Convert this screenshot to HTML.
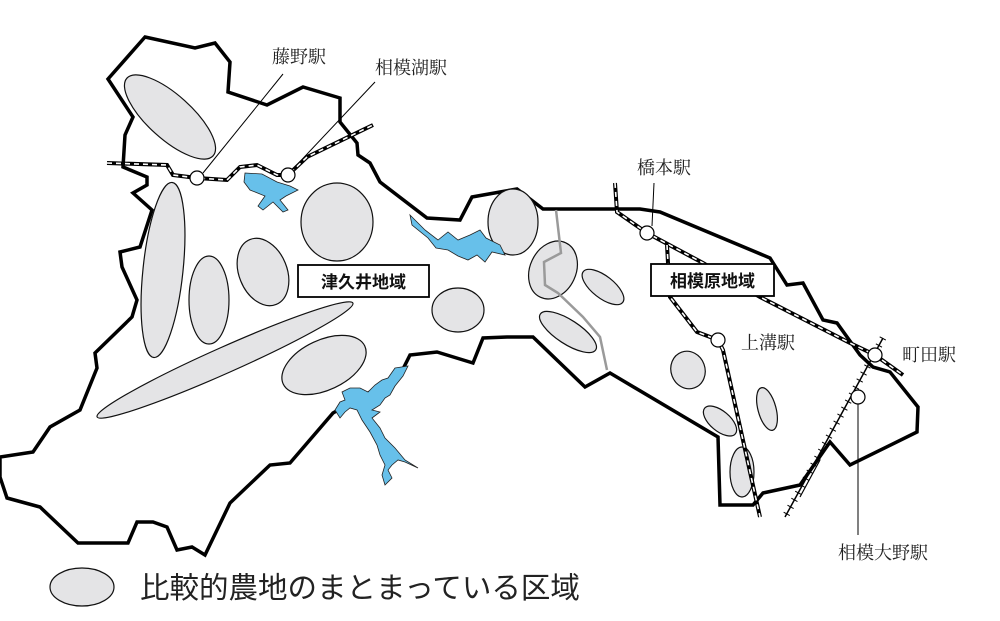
<!DOCTYPE html>
<html><head><meta charset="utf-8"><style>
html,body{margin:0;padding:0;background:#fff;}
svg{display:block;}
.st{font-family:"Liberation Serif","Noto Serif CJK SC",serif;font-size:18px;fill:#222;}
.bx{font-family:"Liberation Sans","Noto Sans CJK JP",sans-serif;font-size:17px;font-weight:bold;fill:#111;}
</style></head><body>
<svg width="1000" height="621" viewBox="0 0 1000 621" xmlns="http://www.w3.org/2000/svg">
<path d="M145,37 L195,48 L215,43 L230,62 L228,92 L267,105 L303,87 L340,98 L340,122 L357,143 L358,155 L370,163 L380,182 L427,218 L460,220 L472,197 L500,192 L517,189 L543,209 L640,209 L660,212 L770,258 L787,285 L803,283 L823,320 L837,323 L860,355 L873,367 L890,372 L918,407 L917,432 L850,465 L830,442 L800,485 L763,493 L753,505 L720,505 L718,437 L610,373 L585,387 L533,337 L507,337 L483,338 L473,363 L437,352 L410,355 L400,375 L333,413 L290,463 L270,465 L230,503 L205,555 L192,547 L177,550 L167,527 L153,522 L137,522 L128,543 L78,543 L40,507 L7,498 L0,477 L0,457 L33,452 L50,427 L80,410 L97,368 L95,353 L132,317 L137,300 L122,267 L120,252 L140,247 L152,210 L133,193 L147,185 L147,177 L123,167 L125,135 L133,117 L108,79 Z" fill="#fff" stroke="#000" stroke-width="3.5" stroke-linejoin="miter"/>
<g fill="#e4e4e6" stroke="#111" stroke-width="1.2">
<ellipse cx="170" cy="117" rx="58" ry="22" transform="rotate(42 170 117)"/>
<ellipse cx="163" cy="270" rx="20" ry="88" transform="rotate(6 163 270)"/>
<ellipse cx="209" cy="300" rx="20" ry="44"/>
<ellipse cx="263" cy="272" rx="24" ry="35" transform="rotate(-22 263 272)"/>
<ellipse cx="337" cy="222" rx="36" ry="39"/>
<ellipse cx="225" cy="360" rx="140" ry="13" transform="rotate(-24 225 360)"/>
<ellipse cx="324" cy="365" rx="45" ry="25" transform="rotate(-25 324 365)"/>
<ellipse cx="458" cy="310" rx="26" ry="22"/>
<ellipse cx="513" cy="222" rx="25" ry="33"/>
<ellipse cx="553" cy="270" rx="23" ry="30" transform="rotate(25 553 270)"/>
<ellipse cx="603" cy="287" rx="25" ry="11" transform="rotate(38 603 287)"/>
<ellipse cx="568" cy="332" rx="33" ry="12" transform="rotate(33 568 332)"/>
<ellipse cx="688" cy="370" rx="17" ry="19" transform="rotate(-20 688 370)"/>
<ellipse cx="767" cy="409" rx="9" ry="22" transform="rotate(-15 767 409)"/>
<ellipse cx="720" cy="421" rx="20" ry="10" transform="rotate(40 720 421)"/>
<ellipse cx="742" cy="472" rx="12" ry="25"/>
<ellipse cx="82" cy="587" rx="32" ry="19"/>
</g>
<g fill="#67c0ea" stroke="#222" stroke-width="0.8">
<path d="M245,173 L262,174 L277,182 L290,186 L298,190 L286,196 L280,200 L288,210 L283,212 L273,202 L263,210 L258,206 L265,196 L250,190 L244,182 Z"/>
<path d="M410,215 L425,230 L438,240 L448,232 L458,240 L470,235 L480,230 L486,238 L500,245 L505,255 L492,252 L485,262 L477,255 L468,260 L458,256 L448,250 L436,248 L428,238 L412,225 Z"/>
<path d="M395,368 L408,366 L403,376 L395,386 L390,395 L385,398 L380,405 L372,410 L380,412 L372,418 L380,428 L385,438 L395,448 L405,460 L418,468 L405,462 L398,460 L392,465 L388,470 L392,478 L385,485 L382,475 L385,465 L380,455 L377,445 L370,432 L362,420 L357,410 L350,408 L345,412 L340,418 L335,410 L340,402 L345,400 L342,392 L350,388 L360,388 L368,392 L375,385 L382,380 L388,378 Z"/>
</g>
<polyline points="556,210 561,253 544,262 545,285 558,293 583,317 600,337 607,370" fill="none" stroke="#9a9a9a" stroke-width="2.5"/>
<g fill="none">
<polyline points="107,163 167,165 173,175 197,178 227,180 240,167 257,165 277,175 288,175 307,157 373,125" stroke="#000" stroke-width="4"/>
<polyline points="107,163 167,165 173,175 197,178 227,180 240,167 257,165 277,175 288,175 307,157 373,125" stroke="#fff" stroke-width="1.6" stroke-dasharray="5 4"/>
<polyline points="615,183 617,212 647,233 703,263 760,297 850,343 875,355 903,375" stroke="#000" stroke-width="4"/>
<polyline points="615,183 617,212 647,233 703,263 760,297 850,343 875,355 903,375" stroke="#fff" stroke-width="1.6" stroke-dasharray="5 4"/>
<polyline points="667,245 668,263 670,297 697,332 718,340 723,350 760,517" stroke="#000" stroke-width="4"/>
<polyline points="667,245 668,263 670,297 697,332 718,340 723,350 760,517" stroke="#fff" stroke-width="1.6" stroke-dasharray="5 4"/>
<line x1="883" y1="338" x2="785" y2="517" stroke="#000" stroke-width="1.5"/>
<line x1="883" y1="338" x2="785" y2="517" stroke="#000" stroke-width="7" stroke-dasharray="1 7"/>
<line x1="820" y1="460" x2="800" y2="497" stroke="#000" stroke-width="1.2"/>
</g>
<g stroke="#000" stroke-width="1" fill="none">
<line x1="203" y1="173" x2="283" y2="74"/>
<line x1="293" y1="169" x2="375" y2="82"/>
<line x1="652" y1="226" x2="654" y2="183"/>
<line x1="858" y1="404" x2="858" y2="535"/>
</g>
<g fill="#fff" stroke="#000" stroke-width="1.2">
<circle cx="197" cy="178" r="7"/>
<circle cx="288" cy="175" r="7"/>
<circle cx="647" cy="233" r="7"/>
<circle cx="718" cy="340" r="7"/>
<circle cx="875" cy="355" r="7"/>
<circle cx="858" cy="397" r="7"/>
</g>
<text class="st" x="272" y="63">藤野駅</text>
<text class="st" x="375" y="74">相模湖駅</text>
<text class="st" x="637" y="174">橋本駅</text>
<text class="st" x="741" y="349">上溝駅</text>
<text class="st" x="902" y="361">町田駅</text>
<text class="st" x="838" y="559">相模大野駅</text>
<rect x="298" y="265" width="131" height="32" fill="#fff" stroke="#000" stroke-width="1.8"/>
<text class="bx" x="363.5" y="288" text-anchor="middle">津久井地域</text>
<rect x="651" y="264" width="123" height="32" fill="#fff" stroke="#000" stroke-width="1.8"/>
<text class="bx" x="712.5" y="287" text-anchor="middle">相模原地域</text>
<text x="140" y="598" style="font-family:'Liberation Sans','Noto Sans CJK JP',sans-serif;font-size:29.5px;fill:#222;">比較的農地のまとまっている区域</text>
</svg>
</body></html>
